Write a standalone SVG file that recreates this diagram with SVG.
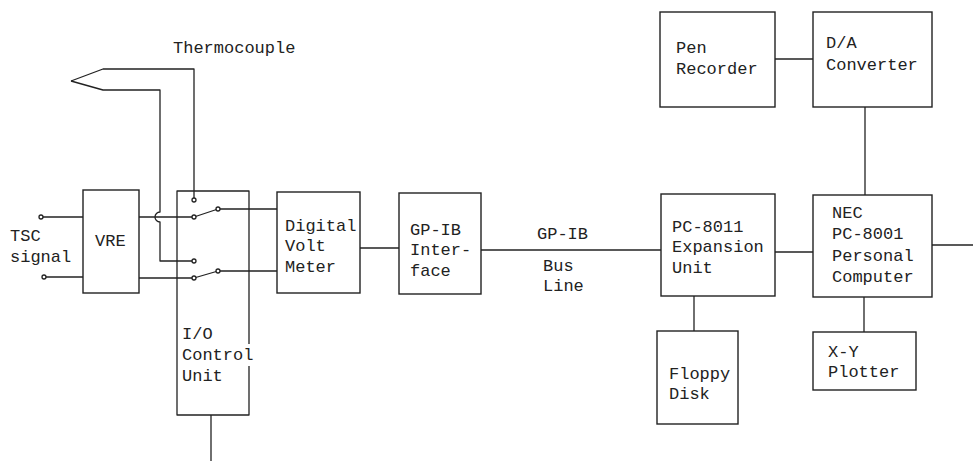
<svg xmlns="http://www.w3.org/2000/svg" width="973" height="461" viewBox="0 0 973 461">
<style>
.b{fill:#fff;stroke:#222;stroke-width:1.4}
.w{fill:none;stroke:#222;stroke-width:1.3;stroke-linejoin:round}
.d{fill:#fff;stroke:#222;stroke-width:1.3}
text{font-family:"Liberation Mono","DejaVu Sans Mono",monospace;font-size:17px;fill:#222}
</style>
<rect width="973" height="461" fill="#fff"/>
<g id="connectors">
<path class="w" d="M71,81 L103,69 L194,69 L194,200"/>
<path class="w" d="M71,81 L103,90 L160,90 L160,212 A5,5 0 0 0 160,222 L160,261 L194,261"/>
<path class="w" d="M41,217 H83"/>
<path class="w" d="M44,277 H83"/>
<path class="w" d="M139,217 H194"/>
<path class="w" d="M139,278 H194"/>
<path class="w" d="M194,217 L218,209 H277"/>
<path class="w" d="M194,278 L218,271 H277"/>
<path class="w" d="M211,415 V461"/>
<path class="w" d="M360,248 H399"/>
<path class="w" d="M481,250 H661"/>
<path class="w" d="M775,252 H813"/>
<path class="w" d="M932,245 H973"/>
<path class="w" d="M694,296 V331"/>
<path class="w" d="M864,297 V332"/>
<path class="w" d="M775,59 H813"/>
<path class="w" d="M865,107 V195"/>
<circle class="d" cx="41" cy="217" r="2"/>
<circle class="d" cx="44" cy="277" r="2"/>
<circle class="d" cx="194" cy="200" r="2"/>
<circle class="d" cx="194" cy="217" r="2"/>
<circle class="d" cx="194" cy="261" r="2"/>
<circle class="d" cx="194" cy="278" r="2"/>
<circle class="d" cx="218" cy="209" r="2"/>
<circle class="d" cx="218" cy="271" r="2"/>
</g>
<g id="thermocouple"><text x="173" y="53">Thermocouple</text></g>
<g id="tsc"><text x="10" y="241">TSC</text><text x="10" y="262">signal</text></g>
<g id="vre"><rect class="b" x="83" y="190" width="56" height="103"/><text x="95" y="246">VRE</text></g>
<g id="io"><path class="w" d="M249,344 V191 H177 V415 H249 V366"/><text x="182" y="339">I/O</text><text x="182" y="360">Control</text><text x="182" y="381">Unit</text></g>
<g id="dvm"><rect class="b" x="277" y="192" width="83" height="101"/><text x="285" y="231">Digital</text><text x="285" y="251">Volt</text><text x="285" y="272">Meter</text></g>
<g id="gpib"><rect class="b" x="399" y="193" width="82" height="101"/><text x="410" y="235">GP-IB</text><text x="410" y="255">Inter-</text><text x="410" y="276">face</text></g>
<g id="busline"><text x="537" y="239">GP-IB</text><text x="543" y="271">Bus</text><text x="543" y="291">Line</text></g>
<g id="pc8011"><rect class="b" x="661" y="194" width="114" height="102"/><text x="672" y="232">PC-8011</text><text x="672" y="252">Expansion</text><text x="672" y="273">Unit</text></g>
<g id="nec"><rect class="b" x="813" y="195" width="119" height="102"/><text x="832" y="218">NEC</text><text x="832" y="239">PC-8001</text><text x="832" y="261">Personal</text><text x="832" y="282">Computer</text></g>
<g id="floppy"><rect class="b" x="657" y="331" width="81" height="93"/><text x="669" y="379">Floppy</text><text x="669" y="399">Disk</text></g>
<g id="xy"><rect class="b" x="813" y="332" width="103" height="58"/><text x="828" y="357">X-Y</text><text x="828" y="377">Plotter</text></g>
<g id="pen"><rect class="b" x="660" y="12" width="115" height="95"/><text x="676" y="53">Pen</text><text x="676" y="74">Recorder</text></g>
<g id="da"><rect class="b" x="813" y="12" width="119" height="95"/><text x="826" y="48">D/A</text><text x="826" y="70">Converter</text></g>
</svg>
